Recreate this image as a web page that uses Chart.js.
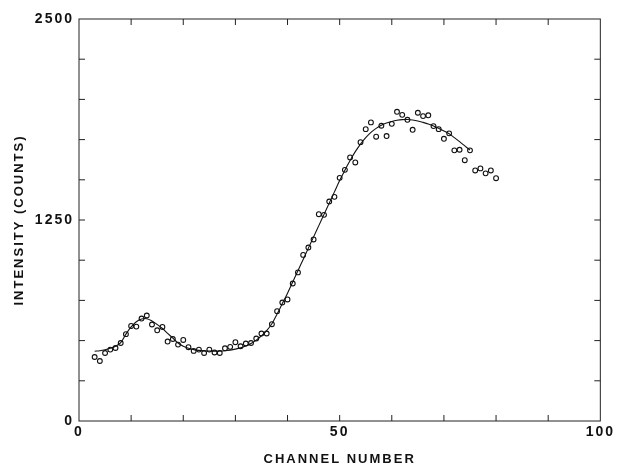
<!DOCTYPE html>
<html>
<head>
<meta charset="utf-8">
<script src="https://cdn.jsdelivr.net/npm/chart.js@4"></script>
<style>
  html, body { margin: 0; padding: 0; background: #fff; }
  #wrap { width: 618px; height: 464px; }
</style>
</head>
<body>
<div id="wrap"><canvas id="grafico"></canvas></div>
<script>
const canales = [3, 4, 5, 6, 7, 8, 9, 10, 11, 12, 13, 14, 15, 16, 17, 18, 19, 20,
    21, 22, 23, 24, 25, 26, 27, 28, 29, 30, 31, 32, 33, 34, 35, 36, 37, 38, 39, 40,
    41, 42, 43, 44, 45, 46, 47, 48, 49, 50, 51, 52, 53, 54, 55, 56, 57, 58, 59, 60,
    61, 62, 63, 64, 65, 66, 67, 68, 69, 70, 71, 72, 73, 74, 75, 76, 77, 78, 79, 80];
const cuentas = [398, 373, 423, 444, 454, 485, 540, 591, 587, 637, 656, 600, 564, 585, 494, 510, 475, 504,
    459, 436, 444, 423, 444, 426, 423, 452, 461, 490, 465, 482, 485, 513, 544, 544, 602, 683, 737, 756,
    855, 924, 1033, 1079, 1129, 1286, 1282, 1365, 1394, 1512, 1562, 1639, 1608, 1734, 1815, 1857, 1768, 1836, 1772, 1848,
    1923, 1904, 1873, 1811, 1917, 1896, 1901, 1834, 1815, 1755, 1789, 1683, 1687, 1622, 1683, 1558, 1571, 1540, 1558, 1510];

// curva ajustada (canales 3..75)
const canalesAjuste = [3, 4, 5, 6, 7, 8, 9, 10, 11, 12, 13, 14, 15, 16, 17, 18, 19, 20,
    21, 22, 23, 24, 25, 26, 27, 28, 29, 30, 31, 32, 33, 34, 35, 36, 37, 38, 39, 40,
    41, 42, 43, 44, 45, 46, 47, 48, 49, 50, 51, 52, 53, 54, 55, 56, 57, 58, 59, 60,
    61, 62, 63, 64, 65, 66, 67, 68, 69, 70, 71, 72, 73, 74, 75];
const cuentasAjuste = [434, 437, 443, 452, 465, 488, 540, 585, 617, 634, 636, 622, 600, 575, 545, 515, 485, 465,
    452, 444, 439, 436, 435, 434, 435, 437, 441, 447, 455, 466, 482, 503, 530, 562, 605, 665, 730, 795,
    865, 935, 1005, 1075, 1145, 1215, 1285, 1355, 1425, 1495, 1560, 1620, 1675, 1722, 1762, 1795, 1820, 1839, 1853, 1863,
    1870, 1874, 1875, 1872, 1866, 1857, 1847, 1835, 1820, 1804, 1786, 1762, 1737, 1711, 1685];

const etiquetasX = [0, 50, 100];
const etiquetasY = [0, 1250, 2500];

const puntos = canales.map((c, i) => ({ x: c, y: cuentas[i] }));
const ajuste = canalesAjuste.map((c, i) => ({ x: c, y: cuentasAjuste[i] }));

const fuente = '"Liberation Sans", Arial, sans-serif';

// marco y marcas hacia adentro
const marcoPlugin = {
    id: 'marco',
    beforeLayout(chart) { chart.ctx.letterSpacing = '2px'; },
    beforeDraw(chart) { chart.ctx.letterSpacing = '2px'; },
    afterDraw(chart) {
        const { ctx, chartArea: a, scales } = chart;
        ctx.save();
        ctx.strokeStyle = '#222';
        ctx.lineWidth = 1;
        ctx.strokeRect(a.left, a.top, a.right - a.left, a.bottom - a.top);
        const largo = 6;
        ctx.beginPath();
        for (let v = 10; v < 100; v += 10) {
            const px = scales.x.getPixelForValue(v);
            ctx.moveTo(px, a.bottom); ctx.lineTo(px, a.bottom - largo);
            ctx.moveTo(px, a.top); ctx.lineTo(px, a.top + largo);
        }
        for (let v = 250; v < 2500; v += 250) {
            const py = scales.y.getPixelForValue(v);
            ctx.moveTo(a.left, py); ctx.lineTo(a.left + largo, py);
            ctx.moveTo(a.right, py); ctx.lineTo(a.right - largo, py);
        }
        ctx.stroke();
        ctx.restore();
    }
};

const ctx = document.getElementById('grafico').getContext('2d');
new Chart(ctx, {
    type: 'scatter',
    data: {
        datasets: [{
            label: 'ajuste',
            data: ajuste,
            showLine: true,
            borderColor: '#111',
            borderWidth: 1.1,
            pointRadius: 0,
            tension: 0.4,
            fill: false
        }, {
            label: 'datos',
            data: puntos,
            pointStyle: 'circle',
            pointRadius: 2.4,
            pointBorderWidth: 1.1,
            pointBorderColor: '#111',
            pointBackgroundColor: 'rgba(255,255,255,0)'
        }]
    },
    options: {
        responsive: true,
        maintainAspectRatio: false,
        animation: false,
        layout: { padding: { top: 19, right: 12, left: 0, bottom: 0 } },
        plugins: { legend: { display: false }, tooltip: { enabled: false } },
        scales: {
            x: {
                type: 'linear',
                min: 0,
                max: 100,
                afterFit: s => { s.height = 43; },
                afterBuildTicks: s => { s.ticks = etiquetasX.map(v => ({ value: v })); },
                grid: { display: false, drawTicks: false },
                border: { display: false },
                ticks: {
                    padding: 3,
                    color: '#111',
                    callback: v => String(v),
                    font: { family: fuente, size: 14, weight: 'bold' }
                },
                title: {
                    display: true,
                    text: 'CHANNEL NUMBER',
                    color: '#111',
                    padding: { top: 0, bottom: -3 },
                    font: { family: fuente, size: 13, weight: 'bold' }
                }
            },
            y: {
                type: 'linear',
                min: 0,
                max: 2500,
                afterFit: s => { s.width = 79; },
                afterBuildTicks: s => { s.ticks = etiquetasY.map(v => ({ value: v })); },
                grid: { display: false, drawTicks: false },
                border: { display: false },
                ticks: {
                    padding: 5,
                    color: '#111',
                    callback: v => String(v),
                    font: { family: fuente, size: 14, weight: 'bold' }
                },
                title: {
                    display: true,
                    text: 'INTENSITY (COUNTS)',
                    color: '#111',
                    padding: { top: 12, bottom: 0 },
                    font: { family: fuente, size: 13, weight: 'bold' }
                }
            }
        }
    },
    plugins: [marcoPlugin]
});
</script>
</body>
</html>
